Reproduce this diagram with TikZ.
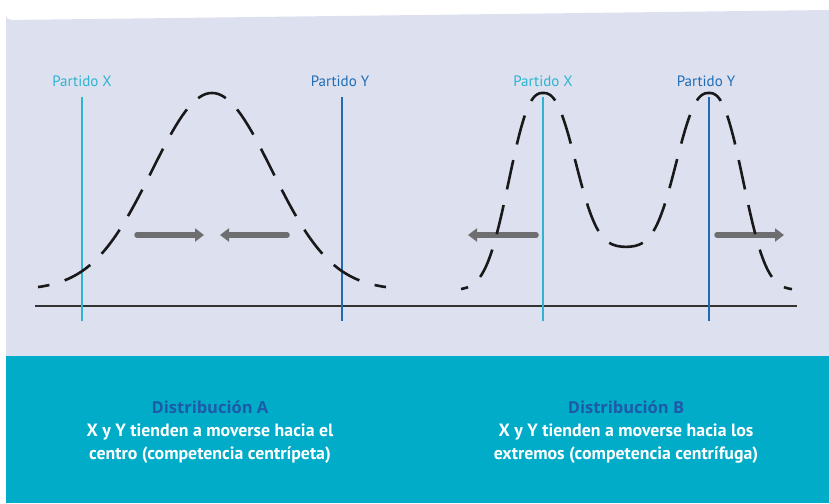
\documentclass[tikz,border=0pt]{standalone}
\usepackage{fontspec}
\setmainfont{PT Sans}
\newfontfamily\headfont{Open Sans}
\usetikzlibrary{arrows.meta}

\definecolor{panelbg}{HTML}{DCE0EF}
\definecolor{bandteal}{HTML}{00ACC8}
\definecolor{partyx}{HTML}{2DB4D0}
\definecolor{partyy}{HTML}{1F6CB4}
\definecolor{distblue}{HTML}{1E5AA8}
\definecolor{arrowgray}{HTML}{6E6E70}

\tikzset{
  partylabel/.style={font=\fontsize{15}{17}\selectfont},
  partyline/.style={line width=1.3pt},
  voters/.style={line width=2.6pt, dash pattern=on 30pt off 16pt, dash phase=15pt, black!90, samples=60},
  push/.style={line width=5.5pt, arrowgray, line cap=round, -{Triangle[width=13pt,length=9pt]}},
  caption/.style={align=center, text=white, font=\bfseries\fontsize{17.8}{23}\selectfont},
}

\begin{document}
\begin{tikzpicture}[x=1pt,y=-1pt]
\useasboundingbox (0,0) rectangle (829,503);
% background panel and band
\fill[panelbg] (6,503) -- (6,15) arc[start angle=180, end angle=90, radius=5] -- (829,10) -- (829,503) -- cycle;
\fill[bandteal] (6,356) rectangle (829,503);
\draw[line width=1.1pt, black!80] (35,306) -- (797,306);

% distribucion A
\draw[partyline, partyx] (82,97) -- (82,321);
\draw[partyline, partyy] (342,97) -- (342,321);
\node[partylabel, text=partyx] (xA) at (82,81) {Partido X};
\node[partylabel, text=partyy] (yA) at (340,81) {Partido Y};
\draw[push] (137,235) -- (204,235);
\draw[push] (287,235) -- (220,235);
\draw[voters, domain=0:174] plot ({212-\x}, {290-197*exp(-(\x/60)^2/2)});
\draw[voters, domain=0:174] plot ({212+\x}, {290-197*exp(-(\x/60)^2/2)});

% distribucion B
\draw[partyline, partyx] (543,97) -- (543,321);
\draw[partyline, partyy] (709,97) -- (709,321);
\node[partylabel, text=partyx] (xB) at (543,81) {Partido X};
\node[partylabel, text=partyy] (yB) at (706,81) {Partido Y};
\draw[push] (536,235) -- (468,235);
\draw[push] (717,235) -- (784,235);
% outer flanks
\draw[voters, domain=0.01:82] plot ({543-\x}, {290-197*exp(-pow(\x/42.2,2.5))});
\draw[voters, domain=0.01:83] plot ({709+\x}, {290-197*exp(-pow(\x/42.2,2.5))});
% inner part, peak down to the valley
\draw[voters, domain=0.01:83] plot ({543+\x}, {247.5-154.5*(exp(-pow(\x/40.2,2.5))+exp(-pow((166-\x)/40.2,2.5)))});
\draw[voters, domain=0.01:83] plot ({709-\x}, {247.5-154.5*(exp(-pow(\x/40.2,2.5))+exp(-pow((166-\x)/40.2,2.5)))});

% captions
\node[caption] (capA) at (210,432) {{\headfont\fontsize{16.5}{23}\selectfont\color{distblue}Distribución A}\\X y Y tienden a moverse hacia el\\centro (competencia centrípeta)};
\node[caption] (capB) at (626,432) {{\headfont\fontsize{16.5}{23}\selectfont\color{distblue}Distribución B}\\X y Y tienden a moverse hacia los\\extremos (competencia centrífuga)};
\end{tikzpicture}
\end{document}
